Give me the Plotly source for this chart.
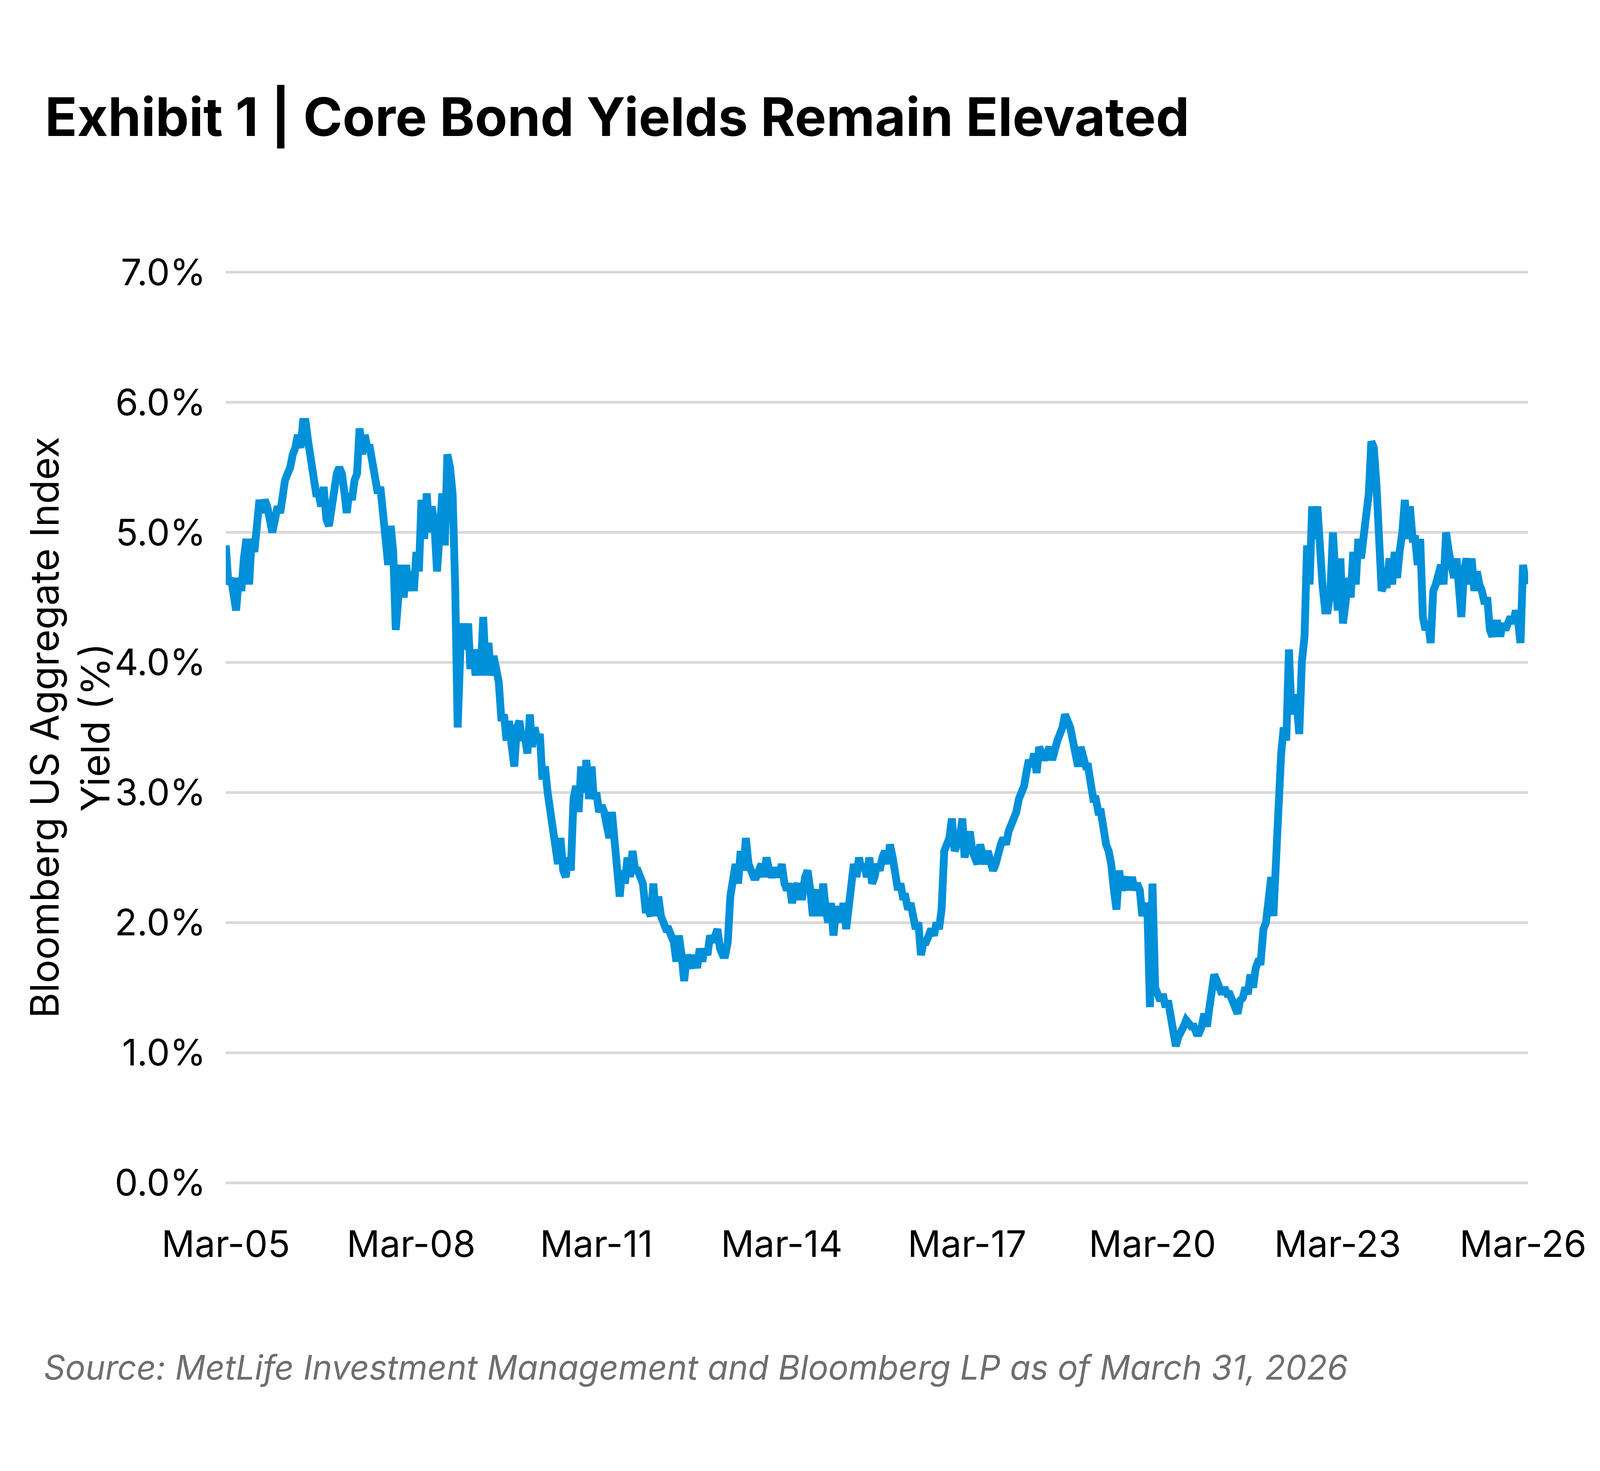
import pandas as pd
import plotly.graph_objects as go

# Bloomberg US Aggregate Index yield (%), two readings a month (mid-month, month-end)
y2005 = [4.9, 4.6, 4.65, 4.5, 4.4, 4.65, 4.55, 4.8, 4.95, 4.6,
         4.95, 4.85, 5.1, 5.25, 5.15, 5.25, 5.2, 5.1, 5.0, 5.1]
y2006 = [5.2, 5.15, 5.3, 5.4, 5.45, 5.5, 5.6, 5.65, 5.75, 5.65, 5.85, 5.85,
         5.7, 5.55, 5.4, 5.3, 5.3, 5.2, 5.35, 5.1, 5.05, 5.2, 5.35, 5.45]
y2007 = [5.5, 5.45, 5.3, 5.15, 5.3, 5.25, 5.4, 5.45, 5.8, 5.6, 5.75, 5.65,
         5.65, 5.5, 5.4, 5.3, 5.35, 5.1, 5.0, 4.75, 5.05, 4.85, 4.25, 4.6]
y2008 = [4.75, 4.5, 4.75, 4.55, 4.7, 4.55, 4.85, 4.7, 5.25, 4.95, 5.3, 5.0,
         5.2, 5.05, 4.7, 5.0, 5.3, 4.9, 5.6, 5.5, 5.3, 4.6, 3.5, 4.1]
y2009 = [4.3, 4.1, 4.3, 3.95, 4.1, 3.9, 4.1, 3.9, 4.35, 3.9, 4.15, 3.9,
         4.05, 3.95, 3.85, 3.55, 3.6, 3.4, 3.55, 3.35, 3.2, 3.5, 3.55, 3.4]
y2010 = [3.45, 3.3, 3.6, 3.35, 3.5, 3.4, 3.45, 3.1, 3.2, 3.0, 2.85, 2.65,
         2.6, 2.45, 2.65, 2.4, 2.35, 2.5, 2.4, 2.95, 3.05, 2.85, 3.2, 3.0]
y2011 = [3.25, 2.95, 3.2, 2.95, 3.0, 2.85, 2.9, 2.85, 2.75, 2.65, 2.85, 2.6,
         2.5, 2.2, 2.4, 2.3, 2.5, 2.35, 2.55, 2.4, 2.4, 2.35, 2.3, 2.1]
y2012 = [2.1, 2.05, 2.3, 2.05, 2.2, 2.05, 2.0, 1.95, 1.95, 1.9, 1.85, 1.7,
         1.9, 1.75, 1.55, 1.75, 1.7, 1.65, 1.75, 1.65, 1.8, 1.7, 1.8, 1.75]
y2013 = [1.9, 1.85, 1.9, 1.95, 1.8, 1.75, 1.75, 1.85, 2.2, 2.3, 2.45, 2.3,
         2.55, 2.4, 2.65, 2.45, 2.4, 2.35, 2.35, 2.4, 2.45, 2.35, 2.5, 2.4]
y2014 = [2.35, 2.4, 2.4, 2.35, 2.45, 2.3, 2.25, 2.3, 2.15, 2.25, 2.3, 2.2,
         2.2, 2.35, 2.4, 2.25, 2.05, 2.2, 2.25, 2.05, 2.3, 2.1, 2.0, 2.15]
y2015 = [1.9, 2.1, 2.1, 2.0, 2.15, 1.95, 2.1, 2.2, 2.45, 2.35, 2.5, 2.4,
         2.45, 2.35, 2.5, 2.3, 2.35, 2.45, 2.4, 2.5, 2.55, 2.45, 2.6, 2.5]
y2016 = [2.4, 2.25, 2.3, 2.2, 2.2, 2.1, 2.15, 2.05, 1.95, 2.0, 1.75, 1.85,
         1.85, 1.9, 1.95, 1.9, 2.0, 1.95, 2.1, 2.55, 2.6, 2.65, 2.8, 2.55]
y2017 = [2.6, 2.65, 2.8, 2.5, 2.6, 2.7, 2.55, 2.5, 2.45, 2.6, 2.5, 2.45,
         2.55, 2.45, 2.4, 2.45, 2.55, 2.6, 2.65, 2.6, 2.7, 2.75, 2.8, 2.85]
y2018 = [2.95, 3.0, 3.05, 3.15, 3.25, 3.2, 3.3, 3.15, 3.35, 3.3, 3.25, 3.3,
         3.35, 3.25, 3.35, 3.4, 3.45, 3.5, 3.6, 3.55, 3.5, 3.4, 3.3, 3.2]
y2019 = [3.35, 3.25, 3.2, 3.2, 3.05, 2.95, 2.95, 2.85, 2.85, 2.7, 2.6, 2.55,
         2.45, 2.25, 2.1, 2.4, 2.25, 2.3, 2.35, 2.25, 2.35, 2.25, 2.3, 2.25]
y2020 = [2.05, 2.15, 2.05, 1.35, 2.3, 1.5, 1.45, 1.4, 1.45, 1.35, 1.4, 1.3,
         1.2, 1.05, 1.12, 1.15, 1.2, 1.25, 1.22, 1.2, 1.2, 1.15, 1.15, 1.2]
y2021 = [1.3, 1.2, 1.35, 1.45, 1.6, 1.55, 1.5, 1.45, 1.5, 1.45, 1.45, 1.4,
         1.38, 1.3, 1.4, 1.42, 1.5, 1.45, 1.6, 1.5, 1.65, 1.7, 1.7, 1.95]
y2022 = [2.0, 2.25, 2.35, 2.05, 2.6, 2.9, 3.3, 3.5, 3.4, 4.1, 3.6, 3.75,
         3.7, 3.45, 4.0, 4.2, 4.9, 4.6, 5.2, 4.95, 5.2, 4.75, 4.6, 4.4]
y2023 = [4.4, 4.55, 5.0, 4.7, 4.4, 4.8, 4.3, 4.45, 4.65, 4.5, 4.85, 4.6,
         4.95, 4.8, 5.0, 5.15, 5.3, 5.7, 5.65, 5.35, 5.05, 4.55, 4.6, 4.6]
y2024 = [4.8, 4.6, 4.85, 4.65, 4.85, 5.0, 5.25, 4.95, 5.2, 4.95, 4.95, 4.75,
         4.95, 4.35, 4.25, 4.3, 4.15, 4.55, 4.6, 4.7, 4.75, 4.6, 5.0, 4.85]
y2025 = [4.75, 4.65, 4.8, 4.55, 4.35, 4.7, 4.8, 4.6, 4.8, 4.55, 4.7, 4.6,
         4.55, 4.45, 4.5, 4.25, 4.2, 4.3, 4.3, 4.2, 4.3, 4.25, 4.3, 4.35]
y2026 = [4.3, 4.4, 4.3, 4.15, 4.75, 4.6]

yields = (y2005 + y2006 + y2007 + y2008 + y2009 + y2010 + y2011 + y2012
          + y2013 + y2014 + y2015 + y2016 + y2017 + y2018 + y2019 + y2020
          + y2021 + y2022 + y2023 + y2024 + y2025 + y2026)

# mid-month and month-end dates, Mar 2005 .. Mar 2026
dates = []
for m in pd.date_range("2005-03-01", "2026-03-01", freq="MS"):
    dates.append(m + pd.Timedelta(days=14))
    dates.append(m + pd.offsets.MonthEnd(0))

tick_years = list(range(2005, 2027, 3))
tick_vals = [f"{y}-03-15" for y in tick_years]
tick_text = [f"Mar-{y % 100:02d}" for y in tick_years]

FONT = "Inter"
W, H = 4080, 3749          # size the page actually gets
L, R, T, B = 570, 176, 679, 720
PW, PH = W - L - R, H - T - B

fig = go.Figure()
fig.add_trace(go.Scatter(
    x=dates, y=yields, mode="lines",
    line=dict(color="#0090DA", width=20),
    hoverinfo="skip",
))

fig.update_layout(
    margin=dict(l=L, r=R, t=T, b=B),
    plot_bgcolor="white", paper_bgcolor="white",
    showlegend=False,
    font=dict(family=FONT, color="black", size=94),
    title=dict(
        text="<b>Exhibit 1 | Core Bond Yields Remain Elevated</b>",
        font=dict(family=FONT, size=136, color="black"),
        x=107 / W, xanchor="left", xref="container",
        y=1 - 292 / H, yanchor="middle", yref="container",
    ),
)

fig.update_xaxes(
    type="date",
    range=["2005-03-15", "2026-04-14"],
    tickvals=tick_vals, ticktext=tick_text,
    showgrid=False, zeroline=False, showline=False,
    ticks="", ticklabelstandoff=85,
    tickfont=dict(size=94, color="black"),
)

# a little padding so the 0% and 7% grid lines are drawn
fig.update_yaxes(
    range=[-0.03, 7.03], dtick=1, tick0=0,
    tickformat=".1f", ticksuffix="%",
    showgrid=True, gridcolor="#D9D9D9", gridwidth=7,
    zeroline=False, showline=False,
    ticks="", ticklabelstandoff=50,
    tickfont=dict(size=94, color="black"),
)

fig.add_annotation(
    text="Bloomberg US Aggregate Index<br>Yield (%)",
    xref="paper", yref="paper",
    x=(170 - L) / PW, y=0.5,
    xanchor="center", yanchor="middle",
    textangle=-90, showarrow=False,
    font=dict(family=FONT, size=100, color="black"),
)

fig.add_annotation(
    text="<i>Source: MetLife Investment Management and Bloomberg LP as of March 31, 2026</i>",
    xref="paper", yref="paper",
    x=(102 - L) / PW, y=(H - B - 3492) / PH,
    xanchor="left", yanchor="middle",
    showarrow=False, align="left",
    font=dict(family=FONT, size=86, color="#6E6E6E"),
)

fig.write_html("out.html")
